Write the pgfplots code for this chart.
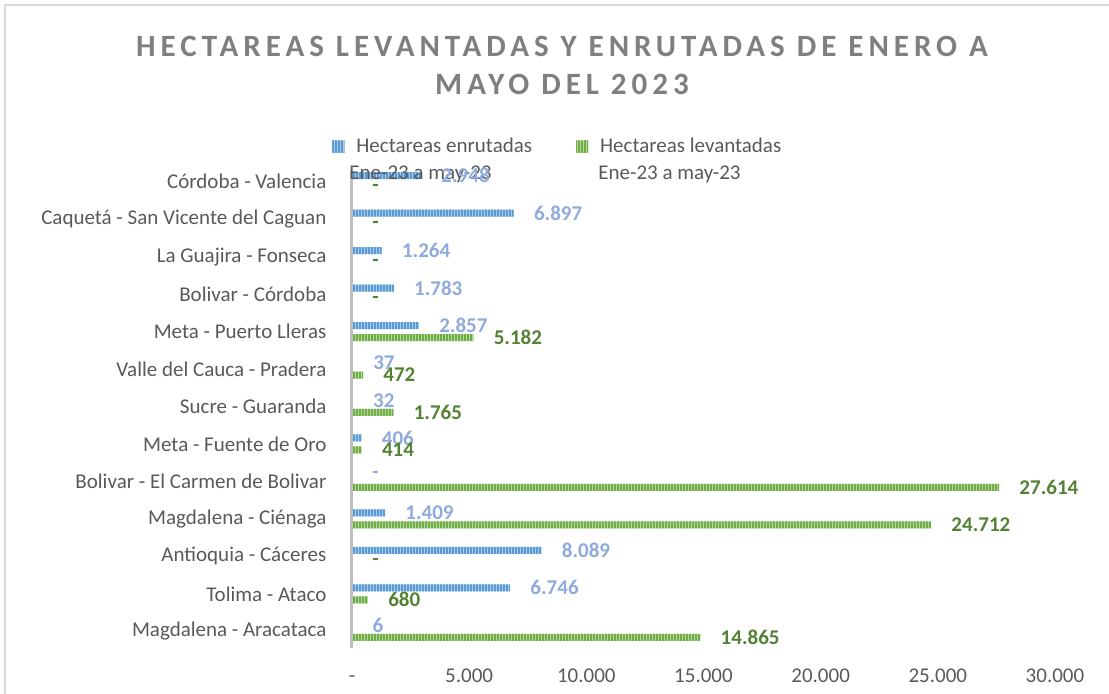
\documentclass[border=0pt]{standalone}
\usepackage{fontspec}
\setmainfont{Carlito}
\newfontfamily\titlefont[LetterSpace=16]{Carlito}
\usepackage{pgfplots}
\pgfplotsset{compat=1.18}
\usepackage{pgfplotstable}
\usetikzlibrary{patterns.meta}

\definecolor{bluefg}{HTML}{5B9BD5}
\definecolor{bluebg}{HTML}{A9CBEA}
\definecolor{greenfg}{HTML}{70AD47}
\definecolor{greenbg}{HTML}{B4D79C}
\definecolor{bluelab}{HTML}{8FAADC}
\definecolor{greenlab}{HTML}{548235}
\definecolor{axgray}{HTML}{595959}
\definecolor{titlegray}{HTML}{7F7F7F}
\definecolor{axline}{HTML}{BFBFBF}
\definecolor{framecol}{HTML}{D9D9D9}

\tikzset{
  bluebar/.style={fill=bluebg, draw=none, postaction={pattern={Lines[angle=90,distance=1.5pt,line width=0.8pt]}, pattern color=bluefg}},
  greenbar/.style={fill=greenbg, draw=none, postaction={pattern={Lines[angle=90,distance=1.5pt,line width=0.8pt]}, pattern color=greenfg}},
}

\pgfplotstableread{
idx enr enrlab lev levlab
0 2948 2.948 0 -
1 6897 6.897 0 -
2 1264 1.264 0 -
3 1783 1.783 0 -
4 2857 2.857 5182 5.182
5 37 37 472 472
6 32 32 1765 1.765
7 406 406 414 414
8 0 - 27614 27.614
9 1409 1.409 24712 24.712
10 8089 8.089 0 -
11 6746 6.746 680 680
12 6 6 14865 14.865
}\datatable

\begin{document}
\begin{tikzpicture}
\useasboundingbox (-176pt,-22pt) rectangle (378.5pt,325pt);
\draw[framecol, line width=1pt] (-173.5pt,-30pt) -- (-173.5pt,322.5pt) -- (390pt,322.5pt);
\begin{axis}[
  at={(0pt,0pt)}, anchor=south west,
  scale only axis, width=351.5pt, height=243.5pt,
  xmin=0, xmax=30000, ymin=-0.5, ymax=12.5, y dir=reverse,
  xtick={0,5000,...,30000},
  xticklabels={-,5.000,10.000,15.000,20.000,25.000,30.000},
  ytick={0,...,12},
  yticklabels={Córdoba - Valencia, Caquetá - San Vicente del Caguan, La Guajira - Fonseca, Bolivar - Córdoba, Meta - Puerto Lleras, Valle del Cauca - Pradera, Sucre - Guaranda, Meta - Fuente de Oro, Bolivar - El Carmen de Bolivar, Magdalena - Ciénaga, Antioquia - Cáceres, Tolima - Ataco, Magdalena - Aracataca},
  tick style={draw=none},
  axis line style={draw=none},
  tick label style={font=\fontsize{10.5}{12}\selectfont, text=axgray},
  xticklabel style={anchor=base, yshift=-16.5pt},
  yticklabel style={xshift=-5pt},
  clip=false,
  xbar, bar width=3.5pt,
  nodes near coords, point meta=explicit symbolic,
  every node near coord/.append style={anchor=west, inner sep=0pt, xshift=10pt, font=\bfseries\fontsize{10.5}{12}\selectfont},
  legend columns=2, legend cell align=left,
  legend style={draw=none, fill=none, at={(axis description cs:-0.0285,1.033)}, anchor=west, inner sep=0pt,
    font=\fontsize{10.5}{12}\selectfont, text=axgray,
    /tikz/every odd column/.append style={column sep=4pt},
    /tikz/every even column/.append style={column sep=20pt}},
]
\addplot[bluebar, bar shift=3pt, nodes near coords style={text=bluelab},
  legend image code/.code={\path[bluebar] (0pt,-3pt) rectangle (6pt,3pt);}]
  table[x=enr, y=idx, meta=enrlab] {\datatable};
\addlegendentry{Hectareas enrutadas}
\addplot[greenbar, bar shift=-3pt, nodes near coords style={text=greenlab},
  legend image code/.code={\path[greenbar] (0pt,-3pt) rectangle (6pt,3pt);}]
  table[x=lev, y=idx, meta=levlab] {\datatable};
\addlegendentry{Hectareas levantadas}
\draw[axline, line width=1.5pt] (axis description cs:0,0.004) -- (axis description cs:0,0.985);
\node[anchor=west, inner sep=0pt, font=\fontsize{10.5}{12}\selectfont, text=axgray] at (axis description cs:-0.0043,0.977) {Ene-23 a may-23};
\node[anchor=west, inner sep=0pt, font=\fontsize{10.5}{12}\selectfont, text=axgray] at (axis description cs:0.3499,0.977) {Ene-23 a may-23};
\node[font=\titlefont\bfseries\fontsize{15.5}{19}\selectfont, text=titlegray, align=center] at (axis description cs:0.2987,1.2012) {HECTAREAS LEVANTADAS Y ENRUTADAS DE ENERO A\\MAYO DEL 2023};
\end{axis}
\end{tikzpicture}
\end{document}
